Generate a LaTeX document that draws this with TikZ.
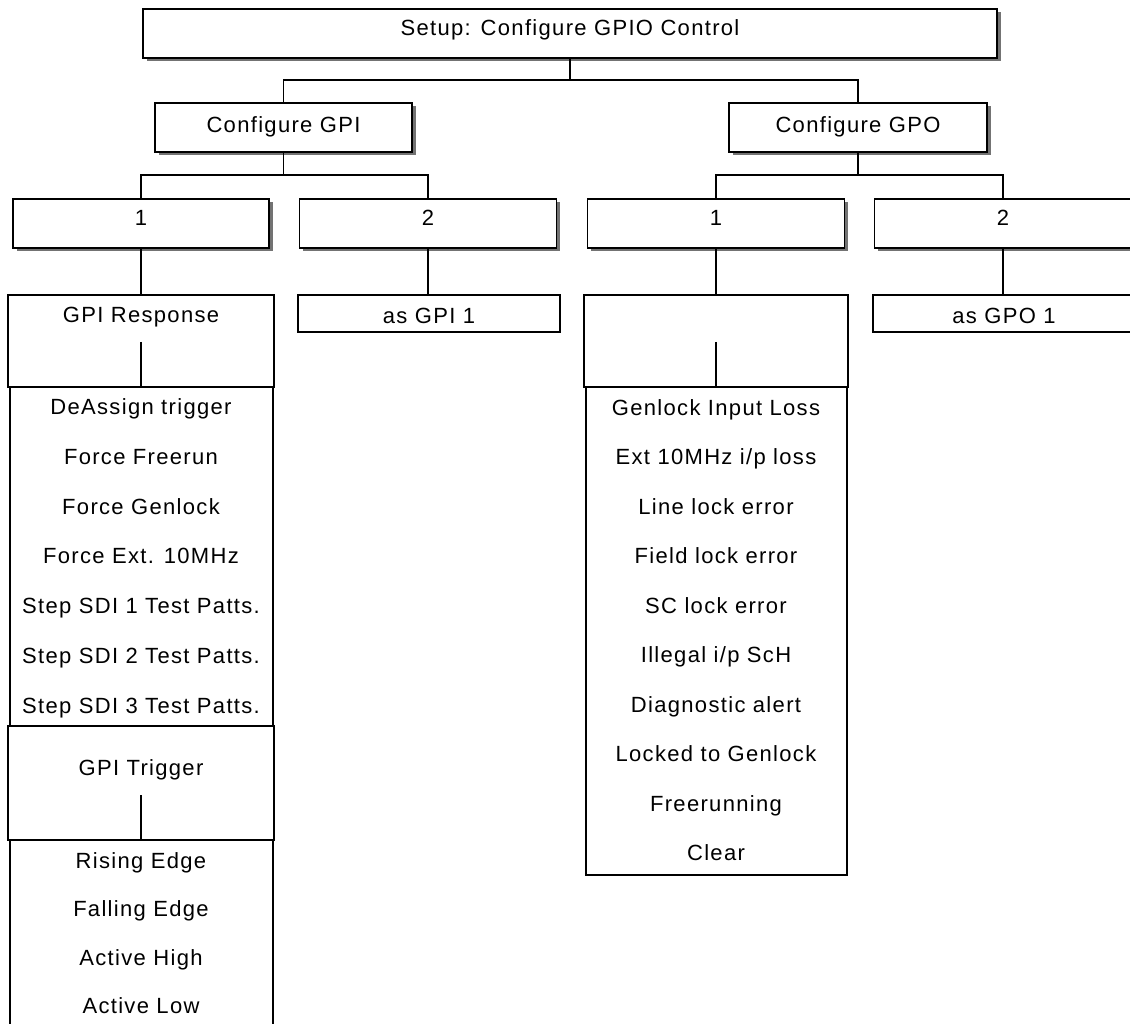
\documentclass[tikz,border=0pt]{standalone}
\usepackage{fontspec}
\setmainfont[LetterSpace=6]{Liberation Sans}
\usetikzlibrary{shadows}
\begin{document}
\begin{tikzpicture}[x=1pt,y=-1pt,
  font=\fontsize{22}{26}\selectfont,
  shbox/.style={draw=black, line width=1.9pt, fill=white, inner sep=0pt,
    drop shadow={shadow xshift=3.5pt, shadow yshift=-3.5pt, fill=black!55, opacity=1}},
  headbox/.style={draw=black, line width=1.4pt, inner sep=0pt},
  listbox/.style={draw=black, line width=2.6pt, inner sep=0pt},
  plain/.style={draw=black, line width=1.8pt, inner sep=0pt},
  item/.style={inner sep=0pt, anchor=center, text height=15.8pt, text depth=0pt},
  link/.style={draw=black, line width=1.5pt}]
\useasboundingbox (0,0) rectangle (1130,1024);
\begin{scope}
\clip (0,0) rectangle (1130,1024);

% top level
\node[shbox, minimum width=854pt, minimum height=49pt] (top) at (570,33.5) {};
\node[item] (toptxt) at (570,28) {Setup: Configure GPIO Control};

% second level
\node[shbox, minimum width=257pt, minimum height=49pt] (cgpi) at (283.5,127.5) {};
\node[item] (cgpitxt) at (283.5,124.5) {Configure GPI};
\node[shbox, minimum width=258pt, minimum height=49pt] (cgpo) at (858,127.5) {};
\node[item] (cgpotxt) at (858,124.5) {Configure GPO};

\coordinate (bus1) at (570,80);
\draw[link] (top.south) -- (bus1);
\draw[link] (cgpi.north) |- (bus1) -| (cgpo.north);

% third level
\node[shbox, minimum width=256pt, minimum height=49pt] (gi1) at (141,223.5) {};
\node[item] (gi1txt) at (141,218) {1};
\node[shbox, minimum width=257pt, minimum height=49pt] (gi2) at (428,223.5) {};
\node[item] (gi2txt) at (428,218) {2};
\node[shbox, minimum width=257pt, minimum height=49pt] (go1) at (716,223.5) {};
\node[item] (go1txt) at (716,218) {1};
\node[shbox, minimum width=257pt, minimum height=49pt] (go2) at (1003,223.5) {};
\node[item] (go2txt) at (1003,218) {2};

\coordinate (bus2) at (283.5,175);
\coordinate (bus3) at (858,175);
\draw[link] (cgpi.south) -- (bus2);
\draw[link] (gi1.north) |- (bus2) -| (gi2.north);
\draw[link] (cgpo.south) -- (bus3);
\draw[link] (go1.north) |- (bus3) -| (go2.north);

% GPI 1 branch: response list
\node[listbox, minimum width=263pt, minimum height=339pt] (resplist) at (141.5,556.5) {};
\node[headbox, fill=white, minimum width=266pt, minimum height=92pt] (resphead) at (141,341) {};
\node[item] (resptxt) at (141,315) {GPI Response};
\coordinate (respline) at (141,342);
\draw[link] (respline) -- (respline |- resplist.north);
\draw[link] (gi1.south) -- (gi1.south |- resphead.north);

\foreach \t [count=\i] in {DeAssign trigger, Force Freerun, Force Genlock,
    Force Ext. 10MHz, Step SDI 1 Test Patts., Step SDI 2 Test Patts.,
    Step SDI 3 Test Patts.}
  \node[item] (resp\i) at (141,406.5+49.8*\i-49.8) {\t};

% GPI 1 branch: trigger list
\node[listbox, minimum width=263pt, minimum height=200pt] (triglist) at (141.5,940) {};
\node[headbox, fill=white, minimum width=266pt, minimum height=114pt] (trighead) at (141,783) {};
\node[item] (trigtxt) at (141,767.5) {GPI Trigger};
\coordinate (trigline) at (141,795);
\draw[link] (trigline) -- (trigline |- triglist.north);

\foreach \t [count=\i] in {Rising Edge, Falling Edge, Active High, Active Low}
  \node[item] (trig\i) at (141,860.5+48.3*\i-48.3) {\t};

% GPI 2
\node[plain, minimum width=262pt, minimum height=37pt] (asgpi) at (429,313.5) {};
\node[item] (asgpitxt) at (429,315.5) {as GPI 1};
\draw[link] (gi2.south) -- (gi2.south |- asgpi.north);

% GPO 1 branch
\node[listbox, minimum width=261pt, minimum height=488pt] (gpolist) at (716.5,631) {};
\node[headbox, fill=white, minimum width=264pt, minimum height=92pt] (gpohead) at (716,341) {};
\coordinate (gpoline) at (716,342);
\draw[link] (gpoline) -- (gpoline |- gpolist.north);
\draw[link] (go1.south) -- (go1.south |- gpohead.north);

\foreach \t [count=\i] in {Genlock Input Loss, Ext 10MHz i/p loss, Line lock error,
    Field lock error, SC lock error, Illegal i/p ScH, Diagnostic alert,
    Locked to Genlock, Freerunning, Clear}
  \node[item] (gpo\i) at (716,407.5+49.5*\i-49.5) {\t};

% GPO 2
\node[plain, minimum width=262pt, minimum height=37pt] (asgpo) at (1004,313.5) {};
\node[item] (asgpotxt) at (1004,315.5) {as GPO 1};
\draw[link] (go2.south) -- (go2.south |- asgpo.north);
\end{scope}
\end{tikzpicture}
\end{document}
